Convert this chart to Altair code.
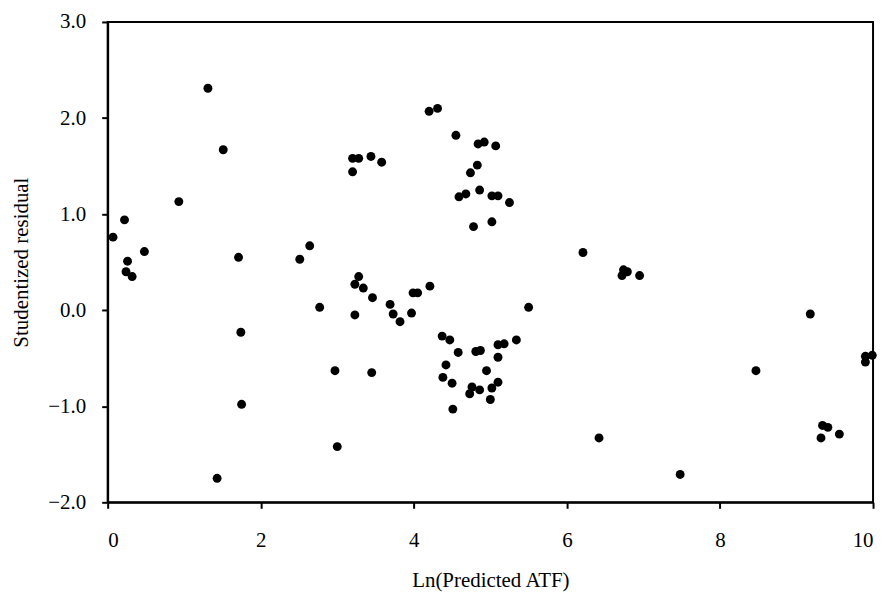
import altair as alt
import pandas as pd

ln_predicted_atf = [
    1.31, 1.51, 3.20, 3.28, 3.20, 0.93, 0.22, 0.07, 0.26, 0.48,
    0.24, 0.32, 1.71, 2.51, 2.64, 2.77, 3.23, 3.28, 3.23, 1.74,
    2.97, 1.75, 3.00, 1.43, 4.20, 4.31, 4.55, 4.84, 4.92, 5.07,
    3.44, 3.58, 4.83, 4.74, 4.59, 4.68, 4.86, 5.02, 5.10, 5.25,
    4.78, 5.02, 3.34, 3.46, 3.99, 4.05, 4.21, 3.69, 3.73, 3.97,
    3.82, 5.50, 3.45, 4.37, 4.47, 4.58, 4.81, 4.87, 5.10, 5.18,
    5.34, 5.10, 4.42, 4.95, 4.38, 4.50, 4.76, 4.86, 4.73, 5.10,
    5.02, 5.00, 4.51, 6.21, 6.74, 6.79, 6.72, 6.95, 9.18, 9.90,
    9.99, 9.90, 8.47, 6.42, 9.34, 9.41, 9.32, 9.56, 7.48,
]

studentized_residual = [
    2.31, 1.67, 1.58, 1.58, 1.44, 1.13, 0.94, 0.76, 0.51, 0.61,
    0.40, 0.35, 0.55, 0.53, 0.67, 0.03, 0.27, 0.35, -0.05, -0.23,
    -0.63, -0.98, -1.42, -1.75, 2.07, 2.10, 1.82, 1.73, 1.75, 1.71,
    1.60, 1.54, 1.51, 1.43, 1.18, 1.21, 1.25, 1.19, 1.19, 1.12,
    0.87, 0.92, 0.23, 0.13, 0.18, 0.18, 0.25, 0.06, -0.04, -0.03,
    -0.12, 0.03, -0.65, -0.27, -0.31, -0.44, -0.43, -0.42, -0.36, -0.35,
    -0.31, -0.49, -0.57, -0.63, -0.70, -0.76, -0.80, -0.83, -0.87, -0.75,
    -0.81, -0.93, -1.03, 0.60, 0.42, 0.40, 0.36, 0.36, -0.04, -0.48,
    -0.47, -0.54, -0.63, -1.33, -1.20, -1.22, -1.33, -1.29, -1.71,
]

x_ticks = [0, 2, 4, 6, 8, 10]
y_ticks = [-2, -1, 0, 1, 2, 3]

df = pd.DataFrame({"x": ln_predicted_atf, "y": studentized_residual})

font = "Liberation Serif"

chart = (
    alt.Chart(df)
    .mark_circle(size=80, color="black", opacity=1)
    .encode(
        x=alt.X(
            "x:Q",
            scale=alt.Scale(domain=[0, 10], nice=False, zero=False),
            axis=alt.Axis(
                values=x_ticks,
                format="d",
                title="Ln(Predicted ATF)",
                grid=False,
                tickSize=6,
                labelPadding=21,
                titlePadding=19,
            ),
        ),
        y=alt.Y(
            "y:Q",
            scale=alt.Scale(domain=[-2, 3], nice=False, zero=False),
            axis=alt.Axis(
                values=y_ticks,
                format=".1f",
                title="Studentized residual",
                grid=False,
                tickSize=6,
                labelPadding=16,
                titlePadding=16,
            ),
        ),
    )
    .properties(
        width=768,
        height=482,
        autosize=alt.AutoSizeParams(type="none"),
        padding={"left": 100, "top": 13, "right": 12, "bottom": 90},
    )
    .configure_view(stroke="black", strokeWidth=2)
    .configure_axis(
        domainColor="black",
        domainWidth=2,
        tickColor="black",
        tickWidth=2,
        labelFont=font,
        labelFontSize=21,
        labelColor="black",
        titleFont=font,
        titleFontSize=21,
        titleFontWeight="normal",
        titleColor="black",
    )
)

chart.save("out.html", embed_options={"renderer": "svg", "actions": False})
